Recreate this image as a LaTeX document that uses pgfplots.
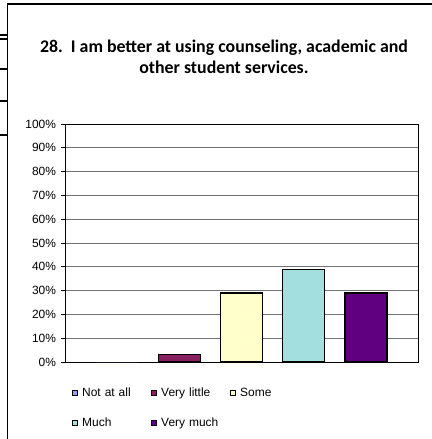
\documentclass[border=0pt]{standalone}
\usepackage{pgfplots}
\pgfplotsset{compat=1.18}
\usepackage{fontspec}
\setmainfont{Liberation Sans}
\newfontfamily\titlefont{Carlito}
\definecolor{cNot}{HTML}{9999FF}
\definecolor{cLittle}{HTML}{882060}
\definecolor{cSome}{HTML}{FFFFCC}
\definecolor{cMuch}{HTML}{A3DFDF}
\definecolor{cVery}{HTML}{600080}
\begin{document}
\begin{tikzpicture}
\useasboundingbox (0,0) rectangle (432bp,-439bp);
% outer frame
\draw[line width=1.3bp] (7.3bp,-439bp) -- (7.3bp,-4bp) -- (432bp,-4bp);
% fragments of neighbouring chart
\foreach \yy in {35,39,69,101,135} \draw[line width=1.8bp] (0,-\yy bp) -- (7.3bp,-\yy bp);
% title
\node[anchor=base, inner sep=0pt] at (224bp,-52bp) {\titlefont\bfseries\fontsize{17.9}{22}\selectfont 28.\ \ I am better at using counseling, academic and};
\node[anchor=base, inner sep=0pt] at (224bp,-73bp) {\titlefont\bfseries\fontsize{17.9}{22}\selectfont other student services.};
\begin{axis}[
  at={(65.5bp,-362bp)}, anchor=south west,
  scale only axis, width=352.5bp, height=238bp,
  xmin=-0.828, xmax=4.836, ymin=0, ymax=100,
  xtick=\empty,
  ytick={0,10,...,100},
  yticklabel={\pgfmathprintnumber{\tick}\%},
  /pgf/number format/assume math mode=true,
  ticklabel style={font=\fontsize{12}{14}\selectfont},
  yticklabel style={xshift=-2bp},
  ytick pos=left, tick align=outside, major tick length=4bp,
  tick style={black, line width=0.8bp},
  ymajorgrids, grid style={black!55, line width=0.9bp},
  axis line style={black, line width=1bp},
  ybar, bar width=0.675, bar shift=0pt,
  every axis plot/.append style={draw=black, line width=1.2bp},
  legend image code/.code={\draw[#1, line width=1bp] (0bp,-2.5bp) rectangle (5bp,2.5bp);},
  legend columns=3,
  legend cell align=left,
  legend style={draw=none, fill=none, font=\fontsize{12}{14}\selectfont,
    at={(axis description cs:0.01,-0.1)}, anchor=north west,
    nodes={inner sep=0pt}, row sep=20bp,
    /tikz/every odd column/.append style={column sep=4bp},
    /tikz/every even column/.append style={text width=69bp}},
]
\addplot[fill=cNot, draw=none, legend image post style={draw=black}] coordinates {(0,0)};
\addlegendentry{Not at all}
\addplot[fill=cLittle] coordinates {(1,3)};
\addlegendentry{Very little}
\addplot[fill=cSome] coordinates {(2,29)};
\addlegendentry{Some}
\addplot[fill=cMuch] coordinates {(3,39)};
\addlegendentry{Much}
\addplot[fill=cVery] coordinates {(4,29)};
\addlegendentry{Very much}
\end{axis}
\end{tikzpicture}
\end{document}
